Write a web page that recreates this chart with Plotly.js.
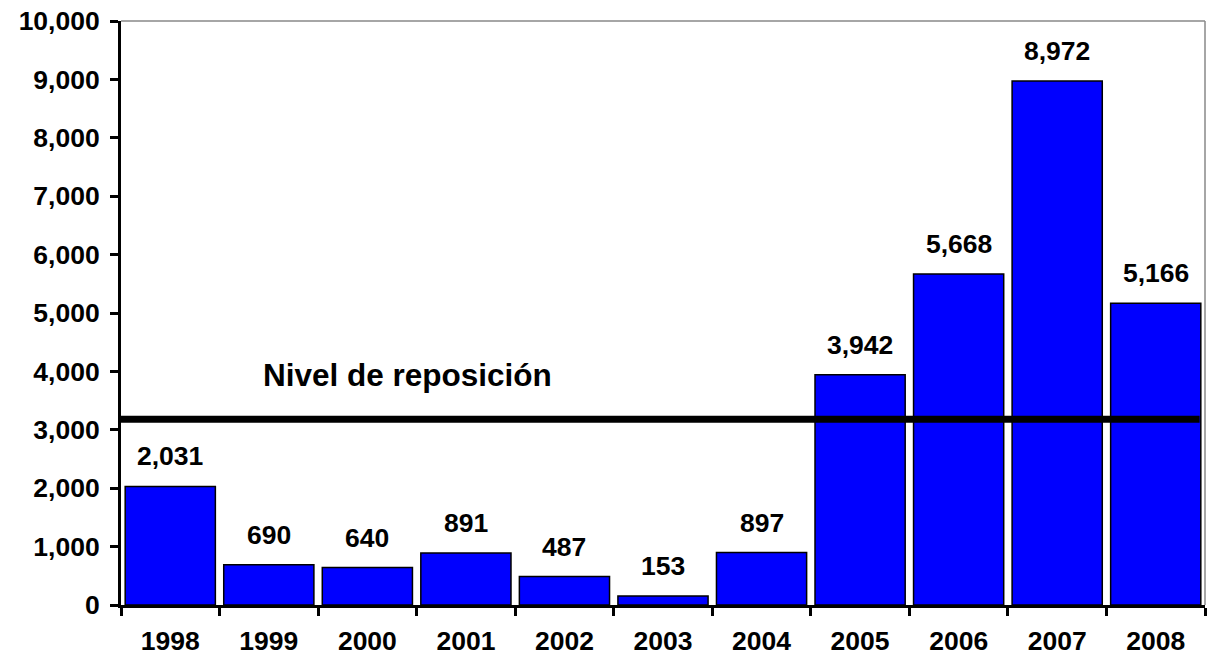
<!DOCTYPE html>
<html>
<head>
<meta charset="utf-8">
<script src="https://cdn.plot.ly/plotly-3.0.1.min.js"></script>
<style>html,body{margin:0;padding:0;background:#fff;}#chart{width:1212px;height:664px;}</style>
</head>
<body>
<div id="chart"></div>
<script>
const years = ['1998','1999','2000','2001','2002','2003','2004','2005','2006','2007','2008'];
const values = [2031, 690, 640, 891, 487, 153, 897, 3942, 5668, 8972, 5166];
const labels = ['2,031','690','640','891','487','153','897','3,942','5,668','8,972','5,166'];
const replacementLevel = 3180;
const replacementLabel = 'Nivel de reposición';
const yTickVals = [0,1000,2000,3000,4000,5000,6000,7000,8000,9000,10000];

const FONT = 'Arial, "Liberation Sans", sans-serif';
const FS = 26.5;

const trace = {
  type: 'bar',
  x: years,
  y: values,
  marker: {color: '#0000FF', line: {color: '#000000', width: 1.5}},
  hoverinfo: 'skip'
};

const annotations = years.map((yr, i) => ({
  x: i, y: values[i], xref: 'x', yref: 'y',
  text: labels[i], showarrow: false, yshift: 30, yanchor: 'middle',
  font: {family: FONT, size: FS, color: '#000', weight: 700}
}));
annotations.push({
  x: 0.129, xref: 'paper', y: 3930, yref: 'y', xanchor: 'left', yanchor: 'middle',
  text: replacementLabel, showarrow: false,
  font: {family: FONT, size: 31.5, color: '#000', weight: 700}
});

const layout = {
  width: 1212, height: 664,
  margin: {l: 121, r: 7, t: 21, b: 59},
  paper_bgcolor: '#fff', plot_bgcolor: '#fff',
  showlegend: false,
  bargap: 0.085,
  font: {family: FONT, size: FS, color: '#000', weight: 700},
  xaxis: {
    type: 'category',
    range: [-0.5, years.length - 0.5],
    showline: true, linecolor: '#000', linewidth: 3,
    ticks: 'outside', tickson: 'boundaries', ticklen: 8, tickwidth: 3, tickcolor: '#000',
    ticklabelstandoff: 10,
    tickfont: {family: FONT, size: FS, color: '#000', weight: 700},
    tickangle: 0,
    showgrid: false, zeroline: false, fixedrange: true
  },
  yaxis: {
    range: [0, 10000], tickvals: yTickVals, tickformat: ',d',
    showline: true, linecolor: '#000', linewidth: 3,
    ticks: 'outside', ticklen: 8, tickwidth: 3, tickcolor: '#000',
    ticklabelstandoff: 5,
    tickfont: {family: FONT, size: FS, color: '#000', weight: 700},
    showgrid: false, zeroline: false, fixedrange: true
  },
  shapes: [
    {type: 'line', xref: 'paper', yref: 'paper', x0: 0, x1: 1, y0: 1, y1: 1, line: {color: '#888', width: 1.5}, layer: 'below'},
    {type: 'line', xref: 'paper', yref: 'paper', x0: 1, x1: 1, y0: 0, y1: 1, line: {color: '#888', width: 1.5}, layer: 'below'},
    {type: 'line', xref: 'paper', yref: 'y', x0: 0, x1: 0.995, y0: replacementLevel, y1: replacementLevel, line: {color: '#000', width: 7}}
  ],
  annotations: annotations
};

Plotly.newPlot('chart', [trace], layout, {displayModeBar: false, staticPlot: true});
</script>
</body>
</html>
